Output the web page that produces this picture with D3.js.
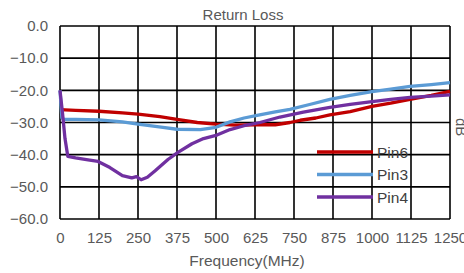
<!DOCTYPE html>
<html>
<head>
<meta charset="utf-8">
<script src="https://cdn.jsdelivr.net/npm/d3@7"></script>
<style>
  body { margin: 0; background: #fff; overflow: hidden; }
  text { font-family: "Liberation Sans", Arial, sans-serif; }
</style>
</head>
<body>
<script>
// frequency (MHz) / return loss (dB)
const freqPin6 = [0, 50, 125, 200, 250, 320, 375, 440, 500, 560, 625, 690, 737, 770, 820, 865, 930, 1000, 1060, 1122, 1190, 1250];
const valPin6  = [-26, -26.2, -26.5, -27, -27.4, -28.2, -29, -30, -30.5, -30.8, -30.7, -30.7, -30, -29.3, -28.6, -27.6, -26.6, -25, -24, -22.8, -21.6, -20.3];

const freqPin3 = [0, 6, 12, 50, 125, 200, 250, 330, 375, 450, 500, 545, 590, 640, 690, 737, 800, 865, 930, 1000, 1060, 1122, 1190, 1250];
const valPin3  = [-20, -28.5, -29, -29, -29.2, -29.8, -30.5, -31.5, -32.1, -32.2, -31.5, -29.8, -28.6, -27.6, -26.7, -25.9, -24.4, -22.8, -21.6, -20.4, -19.6, -18.8, -18.2, -17.6];

const freqPin4 = [0, 8, 16, 25, 50, 90, 122, 160, 200, 230, 245, 260, 280, 305, 346, 378, 423, 460, 503, 545, 590, 641, 705, 780, 865, 930, 1000, 1060, 1122, 1190, 1250];
const valPin4  = [-20, -27, -35, -40.5, -41, -41.6, -42.1, -44, -46.5, -47.2, -46.8, -47.8, -47, -45, -41.5, -39.3, -36.6, -35, -33.9, -32.2, -31, -30, -28.3, -26.8, -25.3, -24.4, -23.5, -22.8, -22.2, -21.8, -21.4];

const xTicks = [0, 125, 250, 375, 500, 625, 750, 875, 1000, 1125, 1250];
const yTicks = [0, -10, -20, -30, -40, -50, -60];

const series = [
  {name: "Pin6", freq: freqPin6, val: valPin6, color: "#c00000"},
  {name: "Pin3", freq: freqPin3, val: valPin3, color: "#5b9bd5"},
  {name: "Pin4", freq: freqPin4, val: valPin4, color: "#7030a0"}
];

const W = 464, H = 273;
const margin = {top: 26, right: 14, bottom: 54, left: 60};
const width = W - margin.left - margin.right
  , height = H - margin.top - margin.bottom;

const xScale = d3.scaleLinear().domain([0, 1250]).range([0, width]);
const yScale = d3.scaleLinear().domain([-60, 0]).range([height, 0]);

const svg = d3.select("body").append("svg")
    .attr("width", W)
    .attr("height", H);

const g = svg.append("g")
    .attr("transform", "translate(" + margin.left + "," + margin.top + ")");

// grid
g.selectAll(".vgrid").data(xTicks).enter().append("line")
    .attr("x1", d => xScale(d)).attr("x2", d => xScale(d))
    .attr("y1", 0).attr("y2", height)
    .attr("stroke", "#000").attr("stroke-width", 1.6);
g.selectAll(".hgrid").data(yTicks).enter().append("line")
    .attr("x1", 0).attr("x2", width)
    .attr("y1", d => yScale(d)).attr("y2", d => yScale(d))
    .attr("stroke", "#000").attr("stroke-width", 1.6);

// axes (labels only)
const xAxis = g.append("g")
    .attr("transform", "translate(0," + height + ")")
    .call(d3.axisBottom(xScale).tickValues(xTicks).tickSize(0).tickPadding(13)
      .tickFormat(d3.format("d")));
const yAxis = g.append("g")
    .call(d3.axisLeft(yScale).tickValues(yTicks).tickSize(0).tickPadding(12)
      .tickFormat(d3.format(".1f")));
[xAxis, yAxis].forEach(a => {
  a.select(".domain").remove();
  a.selectAll("text")
    .attr("fill", "#595959")
    .style("font-size", "15px")
    .style("font-family", "'Liberation Sans', Arial, sans-serif");
});

// lines
const line = d3.line()
    .x(d => xScale(d[0]))
    .y(d => yScale(d[1]));

series.forEach(s => {
  g.append("path")
    .datum(s.freq.map((f, i) => [f, s.val[i]]))
    .attr("fill", "none")
    .attr("stroke", s.color)
    .attr("stroke-width", 3.3)
    .attr("stroke-linejoin", "round")
    .attr("d", line);
});

// legend
series.forEach((s, i) => {
  const ly = 152 + i * 22.5;
  svg.append("line")
    .attr("x1", 317).attr("x2", 373)
    .attr("y1", ly).attr("y2", ly)
    .attr("stroke", s.color).attr("stroke-width", 3.3);
  svg.append("text")
    .attr("x", 377).attr("y", ly + 5.5)
    .attr("fill", "#404040")
    .style("font-size", "15.5px")
    .text(s.name);
});

// titles
svg.append("text")
    .attr("x", 243).attr("y", 20)
    .attr("text-anchor", "middle")
    .attr("fill", "#595959")
    .style("font-size", "15px")
    .text("Return Loss");

svg.append("text")
    .attr("x", 247).attr("y", 266)
    .attr("text-anchor", "middle")
    .attr("fill", "#595959")
    .style("font-size", "15.5px")
    .text("Frequency(MHz)");

svg.append("text")
    .attr("transform", "translate(456,118) rotate(90)")
    .attr("fill", "#595959")
    .style("font-size", "15px")
    .text("dB");
</script>
</body>
</html>
